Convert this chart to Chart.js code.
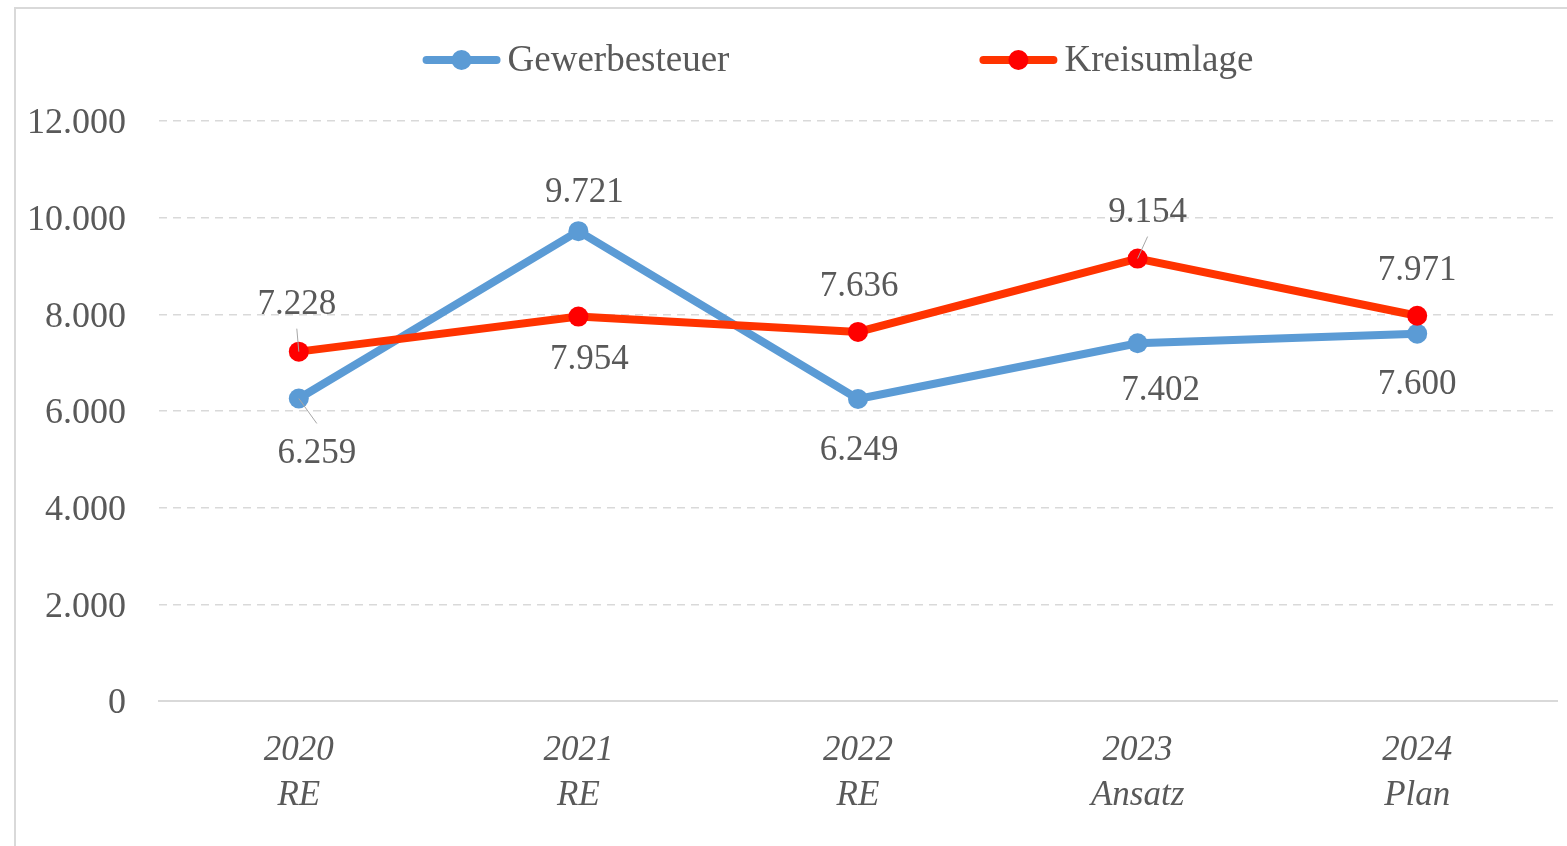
<!DOCTYPE html>
<html>
<head>
<meta charset="utf-8">
<script src="https://cdn.jsdelivr.net/npm/chart.js@4.4.1/dist/chart.umd.min.js"></script>
<style>
  html, body { margin: 0; padding: 0; background: #fff; }
  #wrap { position: relative; width: 1567px; height: 846px; overflow: hidden; }
  #frame { position: absolute; left: 14px; top: 7px; right: -10px; bottom: -10px;
           border-left: 2px solid #d9d9d9; border-top: 2px solid #d9d9d9; }
  #chart { position: absolute; left: 0; top: 0; }
</style>
</head>
<body>
<div id="wrap">
  <div id="frame"></div>
  <canvas id="chart" width="1567" height="846"></canvas>
</div>
<script>
const categories = [['2020', 'RE'], ['2021', 'RE'], ['2022', 'RE'], ['2023', 'Ansatz'], ['2024', 'Plan']];
const gewerbesteuer = [6259, 9721, 6249, 7402, 7600];
const kreisumlage = [7228, 7954, 7636, 9154, 7971];
const yMin = 0;
const yMax = 12000;
const yStep = 2000;

// where each value label sits relative to its point (px), and whether it gets a leader line
const gewLabelPos = [
    { dx: 18, dy: 52, leader: true },
    { dx: 6, dy: -41 },
    { dx: 1, dy: 49 },
    { dx: 23, dy: 45 },
    { dx: 0, dy: 48 }
];
const kreisLabelPos = [
    { dx: -2, dy: -50, leader: true },
    { dx: 11, dy: 40 },
    { dx: 1, dy: -48 },
    { dx: 10, dy: -49, leader: true },
    { dx: 0, dy: -48 }
];

const FONT = '"Liberation Serif", "Times New Roman", serif';
const TEXT = '#595959';

const fmt = (v) => String(v).replace(/\B(?=(\d{3})+(?!\d))/g, '.');

// value labels drawn next to the points
const valueLabels = {
    id: 'valueLabels',
    afterDatasetsDraw(chart) {
        const ctx = chart.ctx;
        ctx.save();
        ctx.font = '35px ' + FONT;
        ctx.fillStyle = TEXT;
        ctx.textAlign = 'center';
        ctx.textBaseline = 'middle';
        chart.data.datasets.forEach((ds, i) => {
            const meta = chart.getDatasetMeta(i);
            meta.data.forEach((pt, j) => {
                const p = ds.labelPos[j];
                const lx = pt.x + p.dx;
                const ly = pt.y + p.dy;
                if (p.leader) {
                    ctx.strokeStyle = '#a6a6a6';
                    ctx.lineWidth = 1;
                    ctx.beginPath();
                    ctx.moveTo(pt.x, pt.y);
                    ctx.lineTo(lx, ly + (p.dy > 0 ? -27 : 27));
                    ctx.stroke();
                }
                // Liberation sits a bit high on 'middle', nudge down
                ctx.fillText(fmt(ds.data[j]), lx, ly + 3);
            });
        });
        ctx.restore();
    }
};

// legend with line + dot marker, centred over the plot
const lineLegend = {
    id: 'lineLegend',
    afterDraw(chart) {
        const ctx = chart.ctx;
        const markerW = 78, gap = 7, spacing = 250, cy = 60;
        ctx.save();
        ctx.font = '37px ' + FONT;
        ctx.textBaseline = 'middle';
        const items = chart.data.datasets.map(ds => ({
            ds, w: markerW + gap + ctx.measureText(ds.label).width
        }));
        const total = items.reduce((s, it) => s + it.w, 0) + spacing * (items.length - 1);
        let x = 838 - total / 2;
        items.forEach(it => {
            ctx.strokeStyle = it.ds.borderColor;
            ctx.lineWidth = 8;
            ctx.lineCap = 'round';
            ctx.beginPath();
            ctx.moveTo(x + 4, cy);
            ctx.lineTo(x + markerW - 4, cy);
            ctx.stroke();
            ctx.fillStyle = it.ds.pointBackgroundColor;
            ctx.beginPath();
            ctx.arc(x + markerW / 2, cy, 10, 0, Math.PI * 2);
            ctx.fill();
            ctx.fillStyle = TEXT;
            ctx.fillText(it.ds.label, x + markerW + gap, cy + 1);
            x += it.w + spacing;
        });
        ctx.restore();
    }
};

const ctx = document.getElementById('chart').getContext('2d');
new Chart(ctx, {
    type: 'line',
    data: {
        labels: categories,
        datasets: [
            {
                label: 'Gewerbesteuer',
                data: gewerbesteuer,
                labelPos: gewLabelPos,
                borderColor: '#5b9bd5',
                backgroundColor: '#5b9bd5',
                pointBackgroundColor: '#5b9bd5',
                pointBorderWidth: 0,
                pointRadius: 10,
                borderWidth: 8,
                order: 2
            },
            {
                label: 'Kreisumlage',
                data: kreisumlage,
                labelPos: kreisLabelPos,
                borderColor: '#ff3300',
                backgroundColor: '#ff0000',
                pointBackgroundColor: '#ff0000',
                pointBorderWidth: 0,
                pointRadius: 10,
                borderWidth: 8,
                order: 1
            }
        ]
    },
    options: {
        responsive: false,
        animation: false,
        layout: { padding: { left: 14, right: 8, top: 121, bottom: 5 } },
        plugins: {
            legend: { display: false },
            tooltip: { enabled: false }
        },
        scales: {
            x: {
                offset: true,
                grid: { display: false },
                border: { display: true, color: '#d9d9d9', width: 2 },
                ticks: {
                    color: TEXT,
                    padding: 20,
                    maxRotation: 0,
                    font: { family: FONT, size: 35, style: 'italic', lineHeight: 1.27 }
                },
                afterFit(scale) { scale.height = 140; }
            },
            y: {
                min: yMin,
                max: yMax,
                ticks: {
                    stepSize: yStep,
                    color: TEXT,
                    padding: 33,
                    labelOffset: 3,
                    font: { family: FONT, size: 36 },
                    callback: (v) => fmt(v)
                },
                grid: { color: '#d9d9d9', lineWidth: 1.5, drawTicks: false },
                border: { display: false, dash: [8, 6] },
                afterFit(scale) { scale.width = 145; }
            }
        }
    },
    plugins: [valueLabels, lineLegend]
});
</script>
</body>
</html>
